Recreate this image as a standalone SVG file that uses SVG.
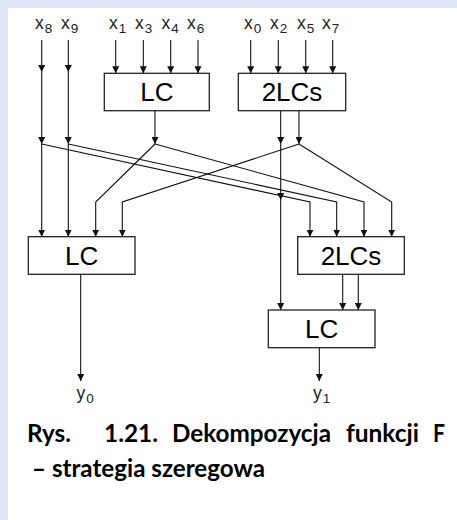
<svg xmlns="http://www.w3.org/2000/svg" width="457" height="520" viewBox="0 0 457 520">
<style>
.bg{fill:#dde7f3}
.box{fill:#fff;stroke:#222;stroke-width:1.3}
.ln{fill:none;stroke:#111;stroke-width:1.1;marker-end:url(#ah)}
.bt{font-family:"Liberation Sans",Arial,sans-serif;font-size:26px;fill:#000;text-anchor:middle}
.lbl{font-family:"Liberation Sans",Arial,sans-serif;font-size:17.5px;fill:#222}
.sub{font-size:13.5px}
.cap{font-family:Lato,"Open Sans",sans-serif;font-weight:700;font-size:24px;fill:#000}
</style>
<defs>
<marker id="ah" viewBox="0 0 7 7" refX="7" refY="3.5" markerWidth="7" markerHeight="7" markerUnits="userSpaceOnUse" orient="auto"><path d="M0,0 L7,3.5 L0,7 z" fill="#111"/></marker>
</defs>
<rect x="0" y="0" width="457" height="520" class="bg"/>
<rect x="8" y="8" width="449" height="512" fill="#fff"/>

<g id="labels">
<text x="35" y="29" class="lbl">x<tspan class="sub" dx="1" dy="3.7">8</tspan></text>
<text x="61" y="29" class="lbl">x<tspan class="sub" dx="1" dy="3.7">9</tspan></text>
<text x="109" y="29" class="lbl">x<tspan class="sub" dx="1" dy="3.7">1</tspan></text>
<text x="135" y="29" class="lbl">x<tspan class="sub" dx="1" dy="3.7">3</tspan></text>
<text x="161.5" y="29" class="lbl">x<tspan class="sub" dx="1" dy="3.7">4</tspan></text>
<text x="187" y="29" class="lbl">x<tspan class="sub" dx="1" dy="3.7">6</tspan></text>
<text x="244" y="29" class="lbl">x<tspan class="sub" dx="1" dy="3.7">0</tspan></text>
<text x="270" y="29" class="lbl">x<tspan class="sub" dx="1" dy="3.7">2</tspan></text>
<text x="297" y="29" class="lbl">x<tspan class="sub" dx="1" dy="3.7">5</tspan></text>
<text x="322" y="29" class="lbl">x<tspan class="sub" dx="1" dy="3.7">7</tspan></text>
<text x="76.5" y="399" class="lbl">y<tspan class="sub" dx="1" dy="3.7">0</tspan></text>
<text x="313" y="399" class="lbl">y<tspan class="sub" dx="1" dy="3.7">1</tspan></text>
</g>

<g id="connectors">
<path class="ln" d="M115.7,40 V73.3"/>
<path class="ln" d="M143.3,40 V73.3"/>
<path class="ln" d="M170.7,40 V73.3"/>
<path class="ln" d="M198,40 V73.3"/>
<path class="ln" d="M250.7,40 V73.3"/>
<path class="ln" d="M278.3,40 V73.3"/>
<path class="ln" d="M305.7,40 V73.3"/>
<path class="ln" d="M332.7,40 V73.3"/>
<path class="ln" d="M41.7,40 V72"/>
<path class="ln" d="M41.7,72 V144"/>
<path class="ln" d="M41.7,144 V236.7"/>
<path class="ln" d="M68.3,40 V72"/>
<path class="ln" d="M68.3,72 V144"/>
<path class="ln" d="M68.3,144 V236.7"/>
<path class="ln" d="M41.7,144 L310,202 V236.7"/>
<path class="ln" d="M68.3,144 L336.7,202 V236.7"/>
<path class="ln" d="M155,110.7 V144"/>
<path class="ln" d="M155,144 L95.7,202 V236.7"/>
<path class="ln" d="M155,144 L364,202 V236.7"/>
<path class="ln" d="M280.7,110.7 V144"/>
<path class="ln" d="M280.7,144 V200"/>
<path class="ln" d="M280.7,200 V310"/>
<path class="ln" d="M299,110.7 V144"/>
<path class="ln" d="M299,144 L122.3,202 V236.7"/>
<path class="ln" d="M299,144 L391.7,202 V236.7"/>
<path class="ln" d="M342.7,274.3 V310"/>
<path class="ln" d="M358.3,274.3 V310"/>
<path class="ln" d="M80.7,274.3 V381"/>
<path class="ln" d="M319.3,347.7 V381"/>
</g>

<g id="lc-top">
<rect class="box" x="104.3" y="73.3" width="105" height="37.4"/>
<text class="bt" x="156.8" y="101.3">LC</text>
</g>
<g id="2lcs-top">
<rect class="box" x="238.3" y="73.3" width="107.4" height="37.4"/>
<text class="bt" x="292" y="101.3">2LCs</text>
</g>
<g id="lc-left">
<rect class="box" x="28.3" y="236.7" width="106.7" height="37.6"/>
<text class="bt" x="81.7" y="264.8">LC</text>
</g>
<g id="2lcs-right">
<rect class="box" x="297.7" y="236.7" width="106.6" height="37.6"/>
<text class="bt" x="351" y="264.8">2LCs</text>
</g>
<g id="lc-bottom">
<rect class="box" x="268.3" y="310" width="106.7" height="37.7"/>
<text class="bt" x="321.7" y="338.2">LC</text>
</g>

<g id="caption">
<text class="cap" x="27" y="442" textLength="44" lengthAdjust="spacingAndGlyphs">Rys.</text>
<text class="cap" x="104" y="442" textLength="54" lengthAdjust="spacingAndGlyphs">1.21.</text>
<text class="cap" x="172" y="442" textLength="159" lengthAdjust="spacingAndGlyphs">Dekompozycja</text>
<text class="cap" x="346" y="442" textLength="73" lengthAdjust="spacingAndGlyphs">funkcji</text>
<text class="cap" x="433" y="442" textLength="12" lengthAdjust="spacingAndGlyphs">F</text>
<text class="cap" x="32" y="477" textLength="233" lengthAdjust="spacingAndGlyphs">– strategia szeregowa</text>
</g>
</svg>
